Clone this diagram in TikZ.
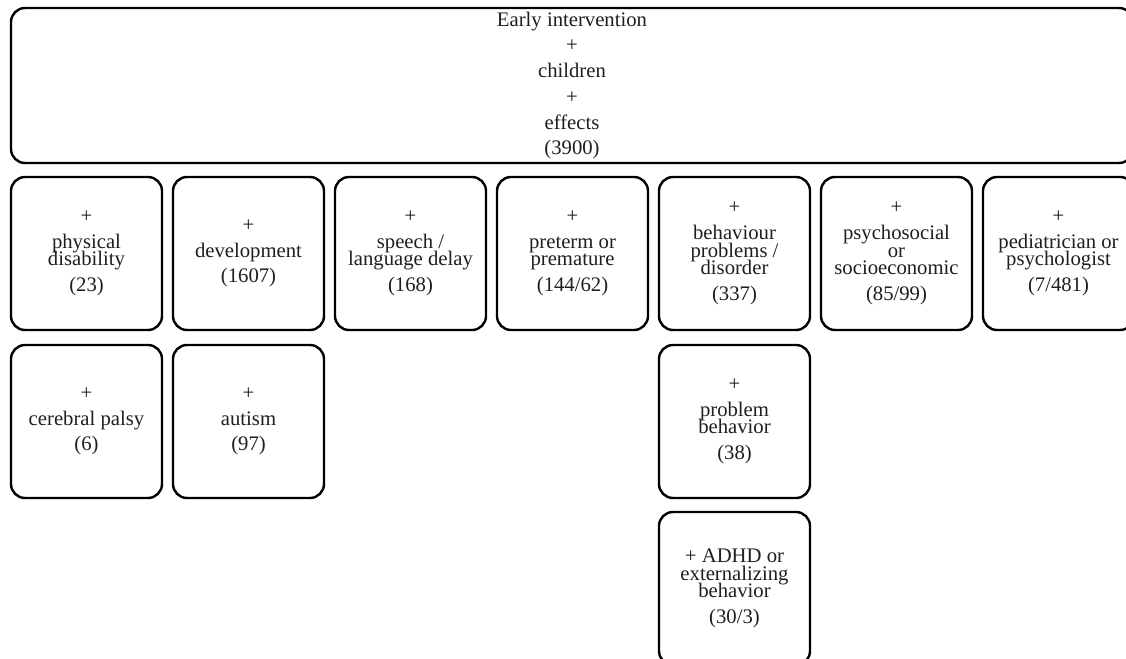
\documentclass[tikz,border=0pt]{standalone}
\usepackage{fontspec}
\setmainfont{Liberation Serif}
\tikzset{
  box/.style={draw=black, line width=2.4pt, rounded corners=14pt,
    minimum width=151pt, minimum height=153pt, align=center,
    inner sep=0pt, text=black!88,
    font=\fontsize{20.7pt}{25.7pt}\selectfont},
  topbox/.style={box, minimum width=1122pt, minimum height=155pt}
}
\newcommand{\wl}{\\[-8pt]}
\begin{document}
\begin{tikzpicture}[x=1pt,y=-1pt]
\clip (0,0) rectangle (1126,658);
\fill[white] (0,0) rectangle (1126,658);
\node[topbox] (top) at (572,85.5) {Early intervention\\+\\children\\+\\effects\\(3900)};
\node[box] (b1) at (86.5,253.5) {+\\physical\wl disability\\(23)};
\node[box] (b2) at (248.5,253.5) {+\\development\\(1607)};
\node[box] (b3) at (410.5,253.5) {+\\speech /\wl language delay\\(168)};
\node[box] (b4) at (572.5,253.5) {+\\preterm or\wl premature\\(144/62)};
\node[box] (b5) at (734.5,253.5) {+\\behaviour\wl problems /\wl disorder\\(337)};
\node[box] (b6) at (896.5,253.5) {+\\psychosocial\wl or\wl socioeconomic\\(85/99)};
\node[box] (b7) at (1058.5,253.5) {+\\pediatrician or\wl psychologist\\(7/481)};
\node[box] (c1) at (86.5,421.5) {+\\cerebral palsy\\(6)};
\node[box] (c2) at (248.5,421.5) {+\\autism\\(97)};
\node[box] (c5) at (734.5,421.5) {+\\problem\wl behavior\\(38)};
\node[box] (d5) at (734.5,588.5) {+ ADHD or\wl externalizing\wl behavior\\(30/3)};
\end{tikzpicture}
\end{document}
